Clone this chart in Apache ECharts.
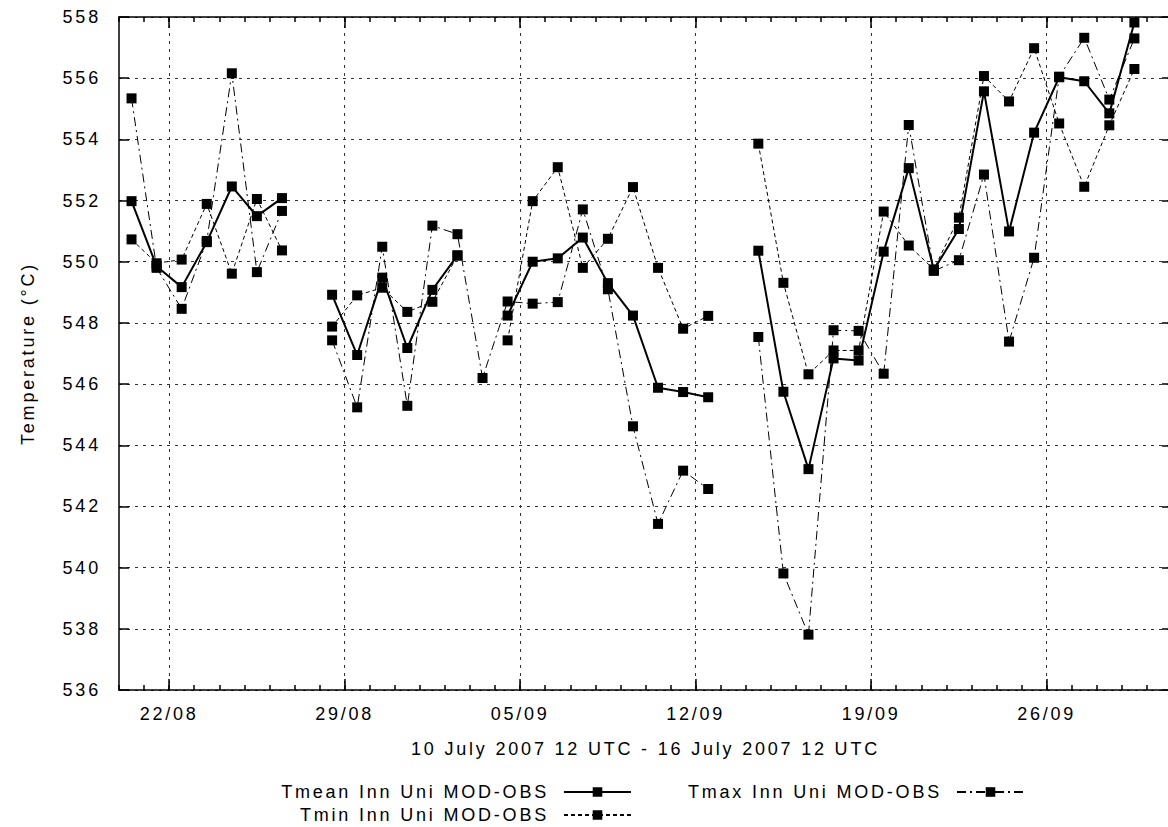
<!DOCTYPE html>
<html>
<head>
<meta charset="utf-8">
<script src="https://cdn.jsdelivr.net/npm/echarts@6/dist/echarts.min.js"></script>
<style>
  html, body { margin: 0; padding: 0; background: #ffffff; }
  /* wide tracking for all chart text (SVG text inherits it) */
  #chart { width: 1168px; height: 827px; letter-spacing: 2.8px; }
</style>
</head>
<body>
<div id="chart"></div>
<script>
// One observation per day at 12 UTC, 20/08 .. 29/09
const dates = [
  '20/08','21/08','22/08','23/08','24/08','25/08','26/08','27/08','28/08','29/08','30/08','31/08',
  '01/09','02/09','03/09','04/09','05/09','06/09','07/09','08/09','09/09','10/09','11/09','12/09',
  '13/09','14/09','15/09','16/09','17/09','18/09','19/09','20/09','21/09','22/09','23/09','24/09',
  '25/09','26/09','27/09','28/09','29/09'
];

const tmean = [
  551.98, 549.85, 549.17, 550.64, 552.46, 551.49, 552.08, null,
  548.92, 546.95, 549.48, 547.18, 549.08, 550.21, null,
  548.24, 550.00, 550.11, 550.79, 549.30, 548.24, 545.88, 545.74, 545.57, null,
  550.36, 545.75, 543.22, 546.84, 546.77, 550.33, 553.06, 549.73, 551.07,
  555.57, 550.99, 554.22, 556.03, 555.90, 554.85, 557.82
];

const tmin = [
  550.73, 549.95, 550.07, 551.89, 549.61, 552.05, 550.37, null,
  547.88, 548.90, 549.15, 548.36, 548.69, 550.20, null,
  547.43, 551.98, 553.09, 549.80, 550.75, 552.44, 549.80, 547.81, 548.23, null,
  553.86, 549.31, 546.32, 547.10, 547.10, 551.64, 550.53, 549.75, 551.44,
  556.07, 555.24, 556.98, 554.52, 552.45, 554.46, 556.30
];

const tmax = [
  555.34, 549.80, 548.46, 550.68, 556.16, 549.66, 551.66, null,
  547.43, 545.24, 550.49, 545.29, 551.18, 550.90, 546.20,
  548.70, 548.63, 548.68, 551.71, 549.10, 544.62, 541.43, 543.17, 542.57, null,
  547.54, 539.81, 537.81, 547.76, 547.74, 546.34, 554.47, 549.70, 550.05,
  552.85, 547.39, 550.13, 556.05, 557.32, 555.30, 557.30
];

// Weekly tick labels (00 UTC of these dates)
const weekLabels = ['22/08', '29/08', '05/09', '12/09', '19/09', '26/09'];

const seriesNames = [
  'Tmean Inn Uni MOD-OBS',
  'Tmin Inn Uni MOD-OBS',
  'Tmax Inn Uni MOD-OBS'
];
const xTitle = '10 July 2007 12 UTC - 16 July 2007 12 UTC';
const yTitle = 'Temperature (\u00B0C)';

const FONT = 'Liberation Sans, Arial, Helvetica, sans-serif';
const FS = 18;
const weekTicks = weekLabels.map(l => dates.indexOf(l));
const xMax = dates.length + 1;           // axis runs from 20/08 00 UTC to 01/10 00 UTC

function toPoints(arr) {
  return arr.map((v, i) => [i + 0.5, v === null ? '-' : v]);
}

const gridDash = { color: '#333', width: 1, type: [3, 5] };
const black = { color: '#000', width: 1.5 };

const chart = echarts.init(document.getElementById('chart'), null, { renderer: 'svg' });

const baseLine = { type: 'line', symbol: 'rect', symbolSize: 10, showAllSymbol: true,
  connectNulls: false, animation: false, xAxisIndex: 0, yAxisIndex: 0,
  itemStyle: { color: '#000' } };

function legendBox(name, right, top) {
  return { data: [name], right: right, top: top, align: 'right', orient: 'horizontal',
    itemWidth: 67, itemHeight: 12, selectedMode: false,
    textStyle: { color: '#000', fontSize: FS, fontFamily: FONT, padding: [0, 10, 0, 0] } };
}

chart.setOption({
  backgroundColor: '#ffffff',
  animation: false,
  textStyle: { fontFamily: FONT },
  // the frame runs to 01/10, slightly past the right edge of the canvas
  grid: { left: 119, top: 17, width: 1053, height: 673, containLabel: false,
          outerBoundsMode: 'none' },
  xAxis: [
    { // weekly ticks, labels and vertical grid
      type: 'value', position: 'bottom', min: 0, max: xMax,
      name: xTitle, nameLocation: 'middle', nameGap: 50,
      nameTextStyle: { color: '#000', fontSize: FS, fontFamily: FONT },
      axisLine: { show: true, onZero: false, lineStyle: black },
      axisTick: { show: true, inside: true, length: 11, customValues: weekTicks, lineStyle: black },
      axisLabel: { show: true, customValues: weekTicks, margin: 15,
                   color: '#000', fontSize: FS, fontFamily: FONT,
                   formatter: v => weekLabels[weekTicks.indexOf(v)] },
      splitLine: { show: true, lineStyle: gridDash }
    },
    { // daily minor ticks, bottom
      type: 'value', position: 'bottom', min: 0, max: xMax, interval: 1,
      axisLine: { show: false, onZero: false },
      axisTick: { show: true, inside: true, length: 5, lineStyle: black },
      axisLabel: { show: false }, splitLine: { show: false }
    },
    { // top border with weekly ticks
      type: 'value', position: 'top', min: 0, max: xMax,
      axisLine: { show: true, onZero: false, lineStyle: black },
      axisTick: { show: true, inside: true, length: 11, customValues: weekTicks, lineStyle: black },
      axisLabel: { show: false }, splitLine: { show: false }
    },
    { // daily minor ticks, top
      type: 'value', position: 'top', min: 0, max: xMax, interval: 1,
      axisLine: { show: false, onZero: false },
      axisTick: { show: true, inside: true, length: 5, lineStyle: black },
      axisLabel: { show: false }, splitLine: { show: false }
    }
  ],
  yAxis: [
    {
      type: 'value', position: 'left', min: 536, max: 558, interval: 2,
      name: yTitle, nameLocation: 'middle', nameGap: 82, nameRotate: 90,
      nameTextStyle: { color: '#000', fontSize: FS, fontFamily: FONT },
      axisLine: { show: true, onZero: false, lineStyle: black },
      axisTick: { show: true, inside: true, length: 10, lineStyle: black },
      axisLabel: { show: true, margin: 18, color: '#000', fontSize: FS, fontFamily: FONT },
      splitLine: { show: true, lineStyle: gridDash }
    },
    {
      type: 'value', position: 'right', min: 536, max: 558, interval: 2,
      axisLine: { show: true, onZero: false, lineStyle: black },
      axisTick: { show: true, inside: true, length: 10, lineStyle: black },
      axisLabel: { show: false }, splitLine: { show: false }
    }
  ],
  legend: [
    legendBox(seriesNames[0], 531, 778),
    legendBox(seriesNames[1], 531, 801),
    legendBox(seriesNames[2], 138, 778)
  ],
  series: [
    Object.assign({}, baseLine, { name: seriesNames[2], data: toPoints(tmax), z: 2,
      lineStyle: { color: '#000', width: 1, type: [9, 4, 2, 4] } }),
    Object.assign({}, baseLine, { name: seriesNames[1], data: toPoints(tmin), z: 3,
      lineStyle: { color: '#000', width: 1, type: [4, 3] } }),
    Object.assign({}, baseLine, { name: seriesNames[0], data: toPoints(tmean), z: 4,
      lineStyle: { color: '#000', width: 2, type: 'solid' } })
  ]
});
</script>
</body>
</html>
